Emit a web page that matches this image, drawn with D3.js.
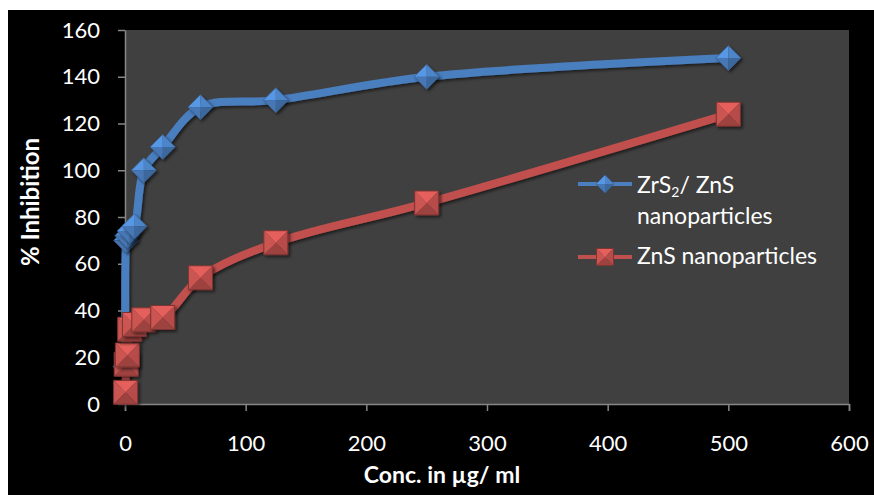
<!DOCTYPE html>
<html>
<head>
<meta charset="utf-8">
<script src="https://cdn.jsdelivr.net/npm/d3@7"></script>
<style>
    body { margin: 0; background: #fff; }
    #chart { display: block; }
    .axis path, .axis line { stroke: #868686; stroke-width: 1.5; }
    .axis text { fill: #fff; font-family: Lato, "Open Sans", sans-serif; font-size: 22px; }
    .title { fill: #fff; font-family: Lato, "Open Sans", sans-serif; font-weight: bold; font-size: 23px; }
    .legend text { fill: #fff; font-family: Lato, "Open Sans", sans-serif; font-size: 23px; }
</style>
</head>
<body>
<svg id="chart"></svg>
<script>
// concentrations (µg/ml) and % inhibition
const conc = [0.49, 0.98, 1.95, 3.9, 7.8, 15.6, 31.25, 62.5, 125, 250, 500];
const zrs2Zns = [16, 70, 72, 74, 76, 100, 110, 127, 130, 140, 148];
const zns = [5, 17, 21, 32, 34, 36, 37, 54, 69, 86, 124];
const xTicks = [0, 100, 200, 300, 400, 500, 600];
const yTicks = [0, 20, 40, 60, 80, 100, 120, 140, 160];

const Chart = {
    svg: null,
    x: null,
    y: null,
    plot: { left: 125, top: 30, right: 849, bottom: 404 },

    render() {
        const W = 874, H = 495;
        this.svg = d3.select('#chart').attr('width', W).attr('height', H);

        // black chart background with a thin white margin at top/left
        this.svg.append('rect')
            .attr('x', 8).attr('y', 10)
            .attr('width', W - 8).attr('height', H - 10)
            .attr('fill', '#000');

        this.x = d3.scaleLinear().domain([0, 600]).range([this.plot.left, this.plot.right]);
        this.y = d3.scaleLinear().domain([0, 160]).range([this.plot.bottom, this.plot.top]);

        // plot area
        this.svg.append('rect')
            .attr('x', this.plot.left).attr('y', this.plot.top)
            .attr('width', this.plot.right - this.plot.left)
            .attr('height', this.plot.bottom - this.plot.top)
            .attr('fill', '#404040');

        this.defs();
        this.drawAxes();
        this.drawSeries(zrs2Zns, '#4a7ebf', 'diamond');
        this.drawSeries(zns, '#c0504d', 'square');
        this.drawLegend();
    },

    defs() {
        const f = this.svg.append('defs').append('filter')
            .attr('id', 'shadow')
            .attr('x', '-50%').attr('y', '-50%')
            .attr('width', '200%').attr('height', '200%');
        f.append('feDropShadow')
            .attr('dx', 2).attr('dy', 2)
            .attr('stdDeviation', 1.5)
            .attr('flood-color', '#000')
            .attr('flood-opacity', 0.55);
    },

    drawAxes() {
        this.svg.append('g')
            .attr('class', 'axis')
            .attr('transform', `translate(0,${this.plot.bottom})`)
            .call(d3.axisBottom(this.x).tickValues(xTicks).tickSize(7).tickPadding(24).tickSizeOuter(7));

        this.svg.append('g')
            .attr('class', 'axis')
            .attr('transform', `translate(${this.plot.left},0)`)
            .call(d3.axisLeft(this.y).tickValues(yTicks).tickSize(7).tickPadding(18).tickSizeOuter(0));

        this.svg.append('text')
            .attr('class', 'title')
            .attr('x', 442).attr('y', 483)
            .attr('text-anchor', 'middle')
            .text('Conc. in µg/ ml');

        this.svg.append('text')
            .attr('class', 'title')
            .style('font-size', '24px')
            .attr('transform', 'translate(39,202) rotate(-90)')
            .attr('text-anchor', 'middle')
            .text('% Inhibition');
    },

    // pyramid-bevelled marker: four facets round the centre
    marker(g, shape, r, color) {
        const c = d3.color(color);
        const shades = [c.brighter(0.5), c.brighter(0.15), c.darker(0.15), c.darker(0.55)];
        let pts;
        if (shape === 'diamond') {
            pts = [[0, -r], [r, 0], [0, r], [-r, 0]];
            // top-left, top-right, bottom-right, bottom-left facets
            const facets = [[pts[3], pts[0]], [pts[0], pts[1]], [pts[1], pts[2]], [pts[2], pts[3]]];
            const order = [shades[0], shades[1], shades[3], shades[2]];
            facets.forEach((f, i) => {
                g.append('path')
                    .attr('d', `M${f[0]}L${f[1]}L0,0Z`)
                    .attr('fill', order[i]);
            });
            g.append('path')
                .attr('d', `M${pts.join('L')}Z`)
                .attr('fill', 'none')
                .attr('stroke', c.darker(0.8))
                .attr('stroke-width', 0.8);
        } else {
            pts = [[-r, -r], [r, -r], [r, r], [-r, r]];
            // top, right, bottom, left facets
            const facets = [[pts[0], pts[1]], [pts[1], pts[2]], [pts[2], pts[3]], [pts[3], pts[0]]];
            const order = [shades[0], shades[2], shades[3], shades[1]];
            facets.forEach((f, i) => {
                g.append('path')
                    .attr('d', `M${f[0]}L${f[1]}L0,0Z`)
                    .attr('fill', order[i]);
            });
            g.append('path')
                .attr('d', `M${pts.join('L')}Z`)
                .attr('fill', 'none')
                .attr('stroke', c.darker(1.2))
                .attr('stroke-width', 1);
        }
    },

    drawSeries(values, color, shape) {
        const pts = conc.map((c, i) => [this.x(c), this.y(values[i])]);

        const line = d3.line().curve(d3.curveCatmullRom.alpha(0.5));
        this.svg.append('path')
            .attr('d', line(pts))
            .attr('fill', 'none')
            .attr('stroke', color)
            .attr('stroke-width', 8)
            .attr('stroke-linejoin', 'round')
            .attr('filter', 'url(#shadow)');

        const r = shape === 'diamond' ? 12.5 : 12;
        pts.forEach(p => {
            const g = this.svg.append('g')
                .attr('transform', `translate(${p[0]},${p[1]})`)
                .attr('filter', 'url(#shadow)');
            this.marker(g, shape, r, color);
        });
    },

    drawLegend() {
        const lg = this.svg.append('g').attr('class', 'legend');
        const items = [
            { color: '#4a7ebf', shape: 'diamond', y: 184, r: 9 },
            { color: '#c0504d', shape: 'square', y: 257, r: 8.5 }
        ];
        items.forEach(it => {
            lg.append('line')
                .attr('x1', 578).attr('x2', 632)
                .attr('y1', it.y).attr('y2', it.y)
                .attr('stroke', it.color)
                .attr('stroke-width', 4);
            const g = lg.append('g').attr('transform', `translate(605,${it.y})`);
            this.marker(g, it.shape, it.r, it.color);
        });

        const t1 = lg.append('text').attr('x', 637).attr('y', 193);
        t1.append('tspan').text('ZrS');
        t1.append('tspan').attr('dy', 4).style('font-size', '14px').text('2');
        t1.append('tspan').attr('dy', -4).text('/ ZnS');
        lg.append('text').attr('x', 637).attr('y', 224).text('nanoparticles');
        lg.append('text').attr('x', 637).attr('y', 264).text('ZnS nanoparticles');
    }
};

Chart.render();
</script>
</body>
</html>
